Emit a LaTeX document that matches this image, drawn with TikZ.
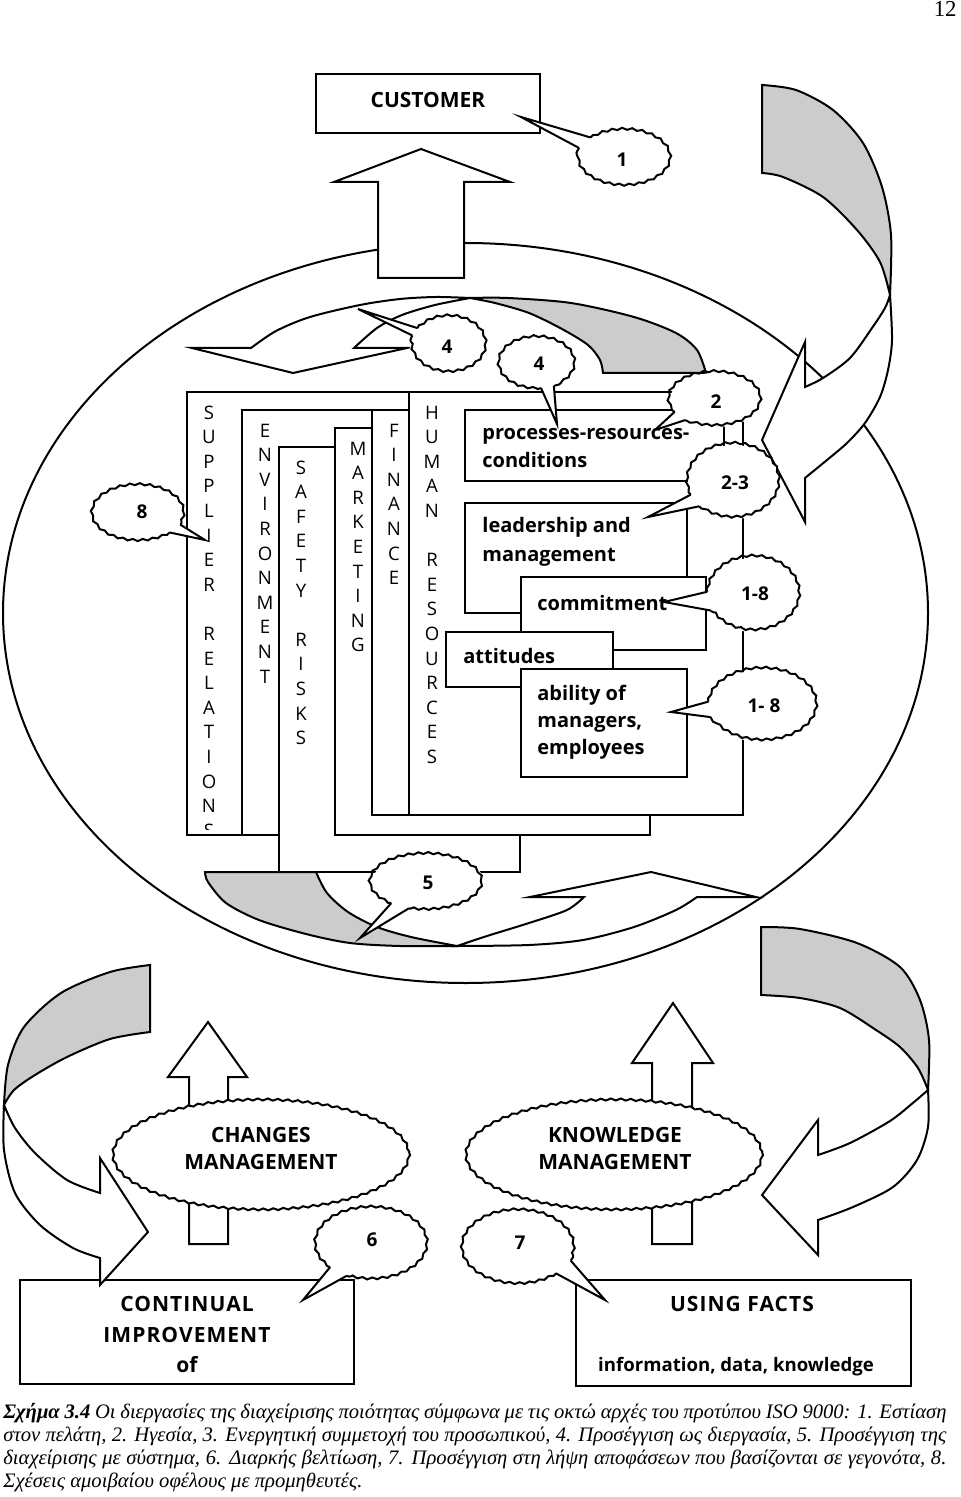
\documentclass[tikz,border=0pt]{standalone}
\usepackage{fontspec}
\setmainfont{Liberation Serif}
\newfontfamily\osans{Open Sans}
\usetikzlibrary{calc,decorations.pathmorphing}
% speech bubble: centre, radii, gap angles, tip
\def\callout(#1)(#2/#3)(#4:#5)(#6){%
  \fill[white] ($(#1)+(#4:#2 and #3)$) -- (#6) -- ($(#1)+(#5:#2 and #3)$) arc[start angle=#5, end angle=#4+360, x radius=#2, y radius=#3] -- cycle;
  \draw[wavy] ($(#1)+(#5:#2 and #3)$) arc[start angle=#5, end angle=#4+360, x radius=#2, y radius=#3];
  \draw[outl] ($(#1)+(#4:#2 and #3)$) -- (#6) -- ($(#1)+(#5:#2 and #3)$);}
\tikzset{
  outl/.style={draw=black, line width=1pt},
  wavy/.style={outl, decorate, decoration={snake, amplitude=0.5pt, segment length=5pt}},
  backface/.style={outl, fill=black!20},
  frontface/.style={outl, fill=white},
  vlet/.style={font=\osans\fontsize{9.3}{12.3}\selectfont, align=center, inner sep=0pt, anchor=north},
  lbl/.style={font=\osans\bfseries\fontsize{10}{12}\selectfont, inner sep=0pt},
  caps/.style={font=\osans\bfseries\fontsize{10.5}{12}\selectfont, inner sep=0pt},
  spaced/.style={font=\osans\bfseries\fontsize{10.5}{12}\selectfont\addfontfeature{LetterSpace=5}, inner sep=0pt},
  num/.style={font=\osans\bfseries\fontsize{9.5}{11}\selectfont, inner sep=0pt},
  capt/.style={font=\itshape\fontsize{10.3}{11}\selectfont, inner sep=0pt, anchor=base west}
}

\begin{document}
\begin{tikzpicture}[x=0.5pt, y=-0.5pt]
				\useasboundingbox (0,0) rectangle (960,1497);
				
				\node[font=\fontsize{11.4}{13}\selectfont, anchor=base east, inner sep=0pt] (page) at (957,17) {12};
				
				%%%%% ORGANISATION %%%%%
				\draw[outl] (465.5,613) ellipse [x radius=462.5, y radius=370];
				
				% top right u-turn
				\draw[backface] plot[smooth] coordinates {(762,85) (796,90) (833,110) (863,143) (882,187) (891,235) (890,295)} -- plot[smooth] coordinates {(890,295) (880,262) (857,230) (823,197) (783,177) (762,173)} -- cycle;
				\draw[frontface] plot[smooth] coordinates {(890,295) (892,340) (888,370) (880,397) (865,423) (847,443) (827,460) (805,478)} -- (805,522) -- (762,440) -- (805,342) -- (805,387) -- plot[smooth] coordinates {(805,387) (823,378) (850,358) (872,328) (885,308) (890,295)} -- cycle;
				
				% top inner arrow
				\draw[backface] plot[smooth] coordinates {(470,298) (508,298) (571,303) (634,317) (676,333) (697,350) (706,373)} -- (603,373) -- plot[smooth] coordinates {(603,373) (600,360) (588,345) (562,329) (529,313) (495,303) (470,298)} -- cycle;
				\draw[frontface] plot[smooth] coordinates {(470,298) (436,297) (400,299) (360,305) (310,317) (276,331) (251,348)} -- (192,348) -- (293,373) -- (407,348) -- (354,348) -- plot[smooth] coordinates {(354,348) (377,328) (402,315) (435,305) (470,298)} -- cycle;
				
				% bottom inner arrow
				\draw[backface] plot[smooth] coordinates {(205,872) (208,882) (226,903) (259,920) (306,934) (350,943) (400,946) (457,946)} -- plot[smooth] coordinates {(457,946) (411,937) (377,927) (348,912) (327,893) (316,872)} -- cycle;
				\draw[frontface] plot[smooth] coordinates {(457,946) (529,945) (583,940) (634,927) (676,910) (697,897)} -- (756,897) -- (651,872) -- (530,897) -- (584,897) -- plot[smooth] coordinates {(584,897) (567,910) (529,923) (487,936) (457,946)} -- cycle;
				
				%%%%% CUSTOMER %%%%%
				\draw[frontface] (378,278) -- (378,182) -- (334,182) -- (421,149) -- (510,182) -- (464,182) -- (464,278) -- cycle;
				\draw[frontface] (316,74) rectangle (540,133);
				\node[caps] (cust) at (428,100) {CUSTOMER};
				
				%%%%% BOXES %%%%%
				\draw[frontface] (187,392) rectangle (600,835);
				\begin{scope}
					\clip (187,392) rectangle (600,829);
					\node[vlet] (supp) at (209,401.4) {\strut S\\U\\P\\P\\L\\I\\E\\R\\~\\R\\E\\L\\A\\T\\I\\O\\N\\S};
				\end{scope}
				\draw[frontface] (242,410) rectangle (600,835);
				\node[vlet] (env) at (265,419.4) {\strut E\\N\\V\\I\\R\\O\\N\\M\\E\\N\\T};
				\draw[frontface] (279,447) rectangle (520,872);
				\node[vlet] (saf) at (301,456.4) {\strut S\\A\\F\\E\\T\\Y\\~\\R\\I\\S\\K\\S};
				\draw[frontface] (335,428) rectangle (650,835);
				\node[vlet] (mkt) at (358,437.4) {\strut M\\A\\R\\K\\E\\T\\I\\N\\G};
				\draw[frontface] (372,410) rectangle (600,815);
				\node[vlet] (fin) at (394,419.4) {\strut F\\I\\N\\A\\N\\C\\E};
				\draw[frontface] (409,392) rectangle (743,815);
				\node[vlet] (hum) at (432,401.4) {\strut H\\U\\M\\A\\N\\~\\R\\E\\S\\O\\U\\R\\C\\E\\S};
				
				\draw[frontface] (465,410) rectangle (724,481);
				\node[lbl, anchor=base west] (proc1) at (482,439) {processes-resources-};
				\node[lbl, anchor=base west] (proc2) at (482,467) {conditions};
				\draw[frontface] (465,503) rectangle (687,613);
				\node[lbl, anchor=base west] (lead1) at (482,532) {leadership and};
				\node[lbl, anchor=base west] (lead2) at (482,561) {management};
				\draw[frontface] (521,577) rectangle (706,650);
				\node[lbl, anchor=base west] (comm) at (537,610) {commitment};
				\draw[frontface] (446,632) rectangle (613,687);
				\node[lbl, anchor=base west] (att) at (463,663) {attitudes};
				\draw[frontface] (521,669) rectangle (687,777);
				\node[lbl, anchor=base west] (abil1) at (537,700) {ability of};
				\node[lbl, anchor=base west] (abil2) at (537,727) {managers,};
				\node[lbl, anchor=base west] (abil3) at (537,754) {employees};
				
				%%%%% BUBBLES %%%%%
				\callout(622,158)(46/28)(201:227)(521,117)
				\node[num] (b1) at (622,160) {1};
				\callout(447,345)(37/28)(200:217)(358,309)
				\node[num] (b4a) at (447,347) {4};
				\callout(539,362)(38/26)(67:87)(557,424)
				\node[num] (b4b) at (539,364) {4};
				\callout(716,400)(46/27)(132:154)(655,430)
				\node[num] (b2) at (716,402) {2};
				\callout(734,482)(46/37)(139:160)(648,517)
				\node[num] (b23) at (735,483) {2-3};
				\callout(753,595)(46/37)(155:185)(664,602)
				\node[num] (b18a) at (755,594) {1-8};
				\callout(762,706)(54/36)(162:187)(671,712)
				\node[num] (b18b) at (764,706) {1- 8};
				\callout(140,511)(46/28)(29:50)(205,540)
				\node[num] (b8) at (142,512) {8};
				\callout(428,882)(56/28)(110:131)(360,938)
				\node[num] (b5) at (428,883) {5};
				
				%%%%% BOTTOM %%%%%
				\draw[frontface] (189,1244) -- (189,1077) -- (168,1077) -- (208,1022) -- (247,1077) -- (228,1077) -- (228,1244) -- cycle;
				\draw[frontface] (652,1244) -- (652,1063) -- (632,1063) -- (673,1003) -- (713,1063) -- (692,1063) -- (692,1244) -- cycle;
				\draw[wavy, fill=white] (261,1152) ellipse [x radius=148, y radius=55];
				\node[caps] (chg1) at (261,1135) {CHANGES};
				\node[caps] (chg2) at (261,1162) {MANAGEMENT};
				\draw[wavy, fill=white] (614,1152) ellipse [x radius=148, y radius=55];
				\node[caps] (kno1) at (615,1135) {KNOWLEDGE};
				\node[caps] (kno2) at (615,1162) {MANAGEMENT};
				
				\draw[frontface] (20,1280) rectangle (354,1384);
				\node[spaced] (cont1) at (187,1304) {CONTINUAL};
				\node[spaced] (cont2) at (187,1335) {IMPROVEMENT};
				\node[caps] (cont3) at (187,1365) {of};
				\draw[frontface] (576,1280) rectangle (911,1386);
				\node[spaced] (fact1) at (742,1304) {USING FACTS};
				\node[lbl, font=\osans\bfseries\fontsize{9.3}{11}\selectfont] (fact2) at (736,1367) {information, data, knowledge};
				
				% bottom left u-turn
				\draw[backface] plot[smooth] coordinates {(150,965) (110,972) (61,993) (24,1027) (8,1065) (4,1105)} -- plot[smooth] coordinates {(4,1105) (14,1090) (35,1075) (67,1057) (110,1039) (150,1032)} -- cycle;
				\draw[frontface] plot[smooth] coordinates {(4,1105) (4,1150) (15,1193) (40,1225) (73,1248) (100,1258)} -- (100,1285) -- (148,1232) -- (100,1158) -- (100,1193) -- plot[smooth] coordinates {(100,1193) (67,1180) (35,1153) (15,1128) (4,1105)} -- cycle;
				
				% bottom right u-turn
				\draw[backface] plot[smooth] coordinates {(761,927) (800,929) (857,943) (900,967) (920,1000) (929,1040) (928,1090)} -- plot[smooth] coordinates {(928,1090) (918,1068) (900,1047) (876,1030) (840,1008) (800,998) (761,995)} -- cycle;
				\draw[frontface] plot[smooth] coordinates {(928,1090) (928,1127) (917,1160) (893,1187) (853,1207) (818,1220)} -- (818,1255) -- (762,1195) -- (818,1120) -- (818,1155) -- plot[smooth] coordinates {(818,1155) (850,1143) (890,1121) (914,1102) (928,1090)} -- cycle;
				
				\callout(373,1244)(56/36)(118:140)(303,1300)
				\node[num] (b6) at (372,1240) {6};
				\callout(520,1245)(56/37)(25:50)(605,1300)
				\node[num] (b7) at (520,1243) {7};
				
				%%%%% CAPTION %%%%%
				\node[capt] (cap1) at (3,1418) {\makebox[471.5pt][s]{\textbf{Σχήμα 3.4} Οι διεργασίες της διαχείρισης ποιότητας σύμφωνα με τις οκτώ αρχές του προτύπου ISO 9000: 1. Εστίαση}};
				\node[capt] (cap2) at (3,1441) {\makebox[471.5pt][s]{στον πελάτη, 2. Ηγεσία, 3. Ενεργητική συμμετοχή του προσωπικού, 4. Προσέγγιση ως διεργασία, 5. Προσέγγιση της}};
				\node[capt] (cap3) at (3,1464) {\makebox[471.5pt][s]{διαχείρισης με σύστημα, 6. Διαρκής βελτίωση, 7. Προσέγγιση στη λήψη αποφάσεων που βασίζονται σε γεγονότα, 8.}};
				\node[capt] (cap4) at (3,1487) {Σχέσεις αμοιβαίου οφέλους με προμηθευτές.};
\end{tikzpicture}
\end{document}
